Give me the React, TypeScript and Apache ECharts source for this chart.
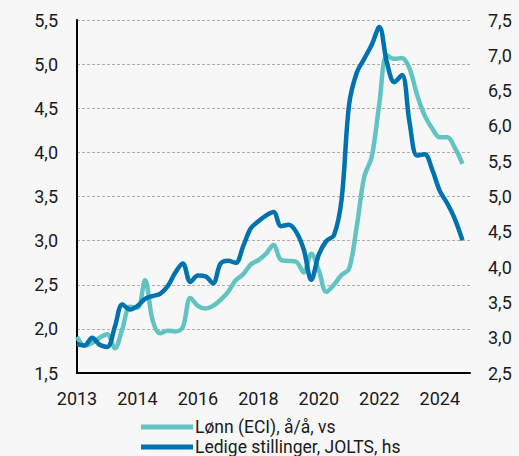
import React, { useEffect, useRef } from "react";
import * as echarts from "echarts";

const xTickLabels = ["2013", "2014", "2016", "2018", "2020", "2022", "2024"];
const categoryCount = 53;
const categories = Array.from({ length: categoryCount }, (_, i) => String(i));

const lonnECI = [
  1.91, 1.81, 1.84, 1.9, 1.94, 1.78, 2.0, 2.25, 2.24, 2.55,
  2.1, 1.95, 1.98, 1.97, 2.02, 2.35, 2.26, 2.23, 2.26, 2.33,
  2.42, 2.55, 2.62, 2.73, 2.78, 2.85, 2.95, 2.78, 2.77, 2.76,
  2.64, 2.85, 2.66, 2.42, 2.5, 2.61, 2.68, 3.15, 3.72, 3.95,
  4.55, 5.1, 5.06, 5.07, 4.95, 4.65, 4.42, 4.27, 4.17, 4.17,
  4.05, 3.87,
];

const ledigeJOLTS = [
  2.91, 2.89, 3.0, 2.9, 2.87, 3.15, 3.47, 3.4, 3.45, 3.55,
  3.59, 3.62, 3.73, 3.92, 4.05, 3.79, 3.88, 3.87, 3.77, 4.05,
  4.09, 4.06, 4.3, 4.55, 4.65, 4.73, 4.78, 4.58, 4.6, 4.5,
  4.25, 3.82, 4.18, 4.37, 4.45, 4.95, 6.3, 6.75, 6.95, 7.15,
  7.4, 6.9, 6.62, 6.72, 6.05, 5.58, 5.6, 5.38, 5.08, 4.9,
  4.68, 4.38,
];

const seriesNames = ["Lønn (ECI), å/å, vs", "Ledige stillinger, JOLTS, hs"];
const colors = ["#62c4c2", "#0072ad"];

const FONT = "Roboto";
const fmt = (v: number) => v.toFixed(1).replace(".", ",");

export default function App() {
  const ref = useRef<HTMLDivElement>(null);
  useEffect(() => {
    if (!ref.current) return;
    const chart = echarts.init(ref.current, null, { renderer: "svg" });
    chart.setOption({
      animation: false,
      backgroundColor: "#f7f7f7",
      textStyle: { fontFamily: FONT },
      grid: { left: 77, right: 49, top: 20, bottom: 83, containLabel: false },
      legend: {
        orient: "vertical",
        left: 141,
        top: 418,
        height: 80,
        padding: 0,
        itemWidth: 52,
        itemHeight: 5,
        itemGap: 2,
        icon: "rect",
        textStyle: { fontFamily: FONT, fontSize: 17.5, lineHeight: 17, color: "#1a1a1a", padding: [0, 0, 0, -3] },
        data: seriesNames,
      },
      xAxis: {
        type: "category",
        data: categories,
        boundaryGap: false,
        axisLine: { show: true, lineStyle: { color: "#000", width: 2 } },
        axisTick: { show: false },
        axisLabel: {
          interval: 7,
          margin: 16,
          fontFamily: FONT,
          fontSize: 18,
          color: "#1a1a1a",
          formatter: (_v: string, idx: number) => xTickLabels[Math.round(idx / 8)] ?? "",
        },
        splitLine: { show: false },
      },
      yAxis: [
        {
          type: "value",
          min: 1.5,
          max: 5.5,
          interval: 0.5,
          position: "left",
          axisLine: { show: true, lineStyle: { color: "#000", width: 2 } },
          axisTick: { show: false },
          axisLabel: { margin: 19, fontFamily: FONT, fontSize: 18, color: "#1a1a1a", formatter: fmt },
          splitLine: { show: true, lineStyle: { color: "#b5aaa6", type: [3, 2], width: 1 } },
        },
        {
          type: "value",
          min: 2.5,
          max: 7.5,
          interval: 0.5,
          position: "right",
          axisLine: { show: false },
          axisTick: { show: false },
          axisLabel: { margin: 18, fontFamily: FONT, fontSize: 18, color: "#1a1a1a", formatter: fmt },
          splitLine: { show: false },
        },
      ],
      series: [
        {
          name: seriesNames[0],
          type: "line",
          yAxisIndex: 0,
          data: lonnECI,
          smooth: 0.35,
          symbol: "none",
          lineStyle: { color: colors[0], width: 4.5 },
          itemStyle: { color: colors[0] },
        },
        {
          name: seriesNames[1],
          type: "line",
          yAxisIndex: 1,
          data: ledigeJOLTS,
          smooth: 0.35,
          symbol: "none",
          lineStyle: { color: colors[1], width: 4.5 },
          itemStyle: { color: colors[1] },
        },
      ],
    });
    return () => chart.dispose();
  }, []);
  return (
    <div
      ref={ref}
      style={{ position: "fixed", left: 0, top: 0, width: 519, height: 456, background: "#f7f7f7" }}
    />
  );
}
